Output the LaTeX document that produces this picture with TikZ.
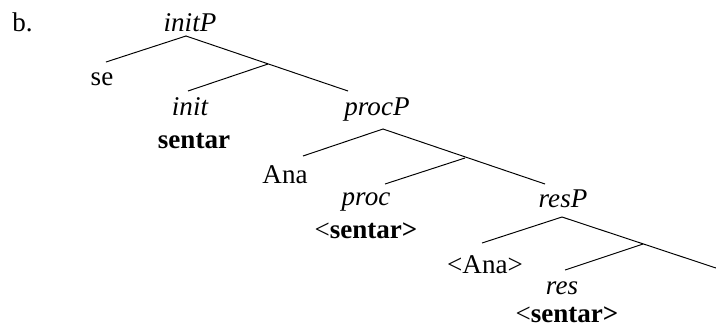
\documentclass[tikz,border=0pt]{standalone}
\usepackage{fontspec}
\setmainfont{Liberation Serif}
\usetikzlibrary{positioning}
\tikzset{
  lbl/.style={inner sep=0pt, anchor=base, font=\fontsize{15.4}{18}\selectfont},
  cat/.style={lbl, font=\fontsize{15.4}{18}\selectfont\itshape},
  head/.style={lbl, font=\fontsize{15.4}{18}\selectfont\bfseries},
  branch/.style={line width=0.55pt},
}
\begin{document}
\begin{tikzpicture}[x=0.02cm, y=-0.02cm]
  \useasboundingbox (0,0) rectangle (716,329);
  \node[lbl, anchor=base west] (ex) at (12,31) {b.};
  % initP level
  \node[cat] (initP) at (190,31) {initP};
  \node[lbl] (se) at (102,85) {se};
  \node[cat] (init) at (190,115) {init};
  \node[head] (sentar) at (194,148) {sentar};
  \coordinate (initP-top) at (186,36);
  \coordinate (se-top) at (106,62);
  \coordinate (initbar) at (268,64);
  \coordinate (init-top) at (188,91);
  \coordinate (procP-in) at (348,91);
  \draw[branch] (se-top) -- (initP-top) -- (procP-in);
  \draw[branch] (initbar) -- (init-top);
  % procP level
  \node[cat] (procP) at (377,115) {procP};
  \node[lbl] (Ana) at (285,183) {Ana};
  \node[cat] (proc) at (366,205) {proc};
  \node[lbl] (procV) at (366,238) {<\textbf{sentar>}};
  \coordinate (procP-top) at (383,129);
  \coordinate (Ana-top) at (303,156);
  \coordinate (procbar) at (465,158);
  \coordinate (proc-top) at (385,184);
  \coordinate (resP-in) at (545,184);
  \draw[branch] (Ana-top) -- (procP-top) -- (resP-in);
  \draw[branch] (procbar) -- (proc-top);
  % resP level
  \node[cat] (resP) at (563,207) {resP};
  \node[lbl] (AnaCopy) at (485,273) {<Ana>};
  \node[cat] (res) at (562,294) {res};
  \node[lbl] (resV) at (567,322) {<\textbf{sentar>}};
  \coordinate (resP-top) at (562,217);
  \coordinate (AnaCopy-top) at (482,243);
  \coordinate (resbar) at (643,244);
  \coordinate (res-top) at (565,270);
  \coordinate (compl) at (716,268);
  \draw[branch] (AnaCopy-top) -- (resP-top) -- (compl);
  \draw[branch] (resbar) -- (res-top);
\end{tikzpicture}
\end{document}
